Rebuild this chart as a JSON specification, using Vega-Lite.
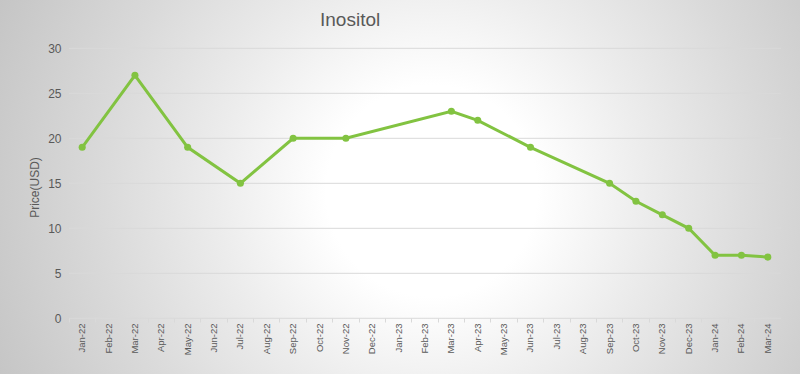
{
  "$schema": "https://vega.github.io/schema/vega-lite/v6.json",
  "width": 800,
  "height": 374,
  "autosize": "none",
  "padding": 0,
  "background": "#d0d0d0",
  "config": {
    "view": {
      "stroke": null,
      "fill": {
        "gradient": "radial",
        "x1": 0.54, "y1": 0.505, "r1": 0,
        "x2": 0.54, "y2": 0.505, "r2": 0.6,
        "stops": [
          {"offset": 0, "color": "#ffffff"},
          {"offset": 0.22, "color": "#ffffff"},
          {"offset": 0.45, "color": "#ececec"},
          {"offset": 0.7, "color": "#d9d9d9"},
          {"offset": 0.9, "color": "#cbcbcb"},
          {"offset": 1, "color": "#c4c4c4"}
        ]
      }
    },
    "font": "Liberation Sans"
  },
  "title": {
    "text": "Inositol",
    "anchor": "start",
    "dx": 320,
    "offset": -30,
    "baseline": "top",
    "fontSize": 19,
    "fontWeight": "normal",
    "color": "#595959",
    "font": "Liberation Sans"
  },
  "datasets": {
    "prices": [
      {"month": "Jan-22", "price": 19},
      {"month": "Mar-22", "price": 27},
      {"month": "May-22", "price": 19},
      {"month": "Jul-22", "price": 15},
      {"month": "Sep-22", "price": 20},
      {"month": "Nov-22", "price": 20},
      {"month": "Mar-23", "price": 23},
      {"month": "Apr-23", "price": 22},
      {"month": "Jun-23", "price": 19},
      {"month": "Sep-23", "price": 15},
      {"month": "Oct-23", "price": 13},
      {"month": "Nov-23", "price": 11.5},
      {"month": "Dec-23", "price": 10},
      {"month": "Jan-24", "price": 7},
      {"month": "Feb-24", "price": 7},
      {"month": "Mar-24", "price": 6.8}
    ],
    "grid": [
      {"price": 0}, {"price": 5}, {"price": 10}, {"price": 15},
      {"price": 20}, {"price": 25}, {"price": 30}
    ]
  },
  "encoding": {
    "y": {
      "field": "price",
      "type": "quantitative",
      "scale": {"domain": [-6.19, 35.37], "nice": false, "zero": false},
      "axis": {
        "values": [0, 5, 10, 15, 20, 25, 30],
        "offset": -69,
        "grid": false,
        "domain": false,
        "ticks": false,
        "labelPadding": 8,
        "labelColor": "#595959",
        "labelFontSize": 12,
        "title": "Price(USD)",
        "titleColor": "#595959",
        "titleFontSize": 12,
        "titleFontWeight": "normal",
        "titlePadding": 6
      }
    }
  },
  "layer": [
    {
      "data": {"name": "grid"},
      "mark": {"type": "rule", "color": "#d9d9d9", "strokeWidth": 1},
      "encoding": {
        "x": {"datum": "Jan-22", "type": "ordinal", "bandPosition": 0},
        "x2": {"datum": "Mar-24", "bandPosition": 1}
      }
    },
    {
      "data": {"name": "prices"},
      "mark": {
        "type": "line",
        "color": "#82c341",
        "strokeWidth": 3,
        "point": {"filled": true, "size": 50, "color": "#82c341"}
      },
      "encoding": {
        "x": {
          "field": "month",
          "type": "ordinal",
          "scale": {
            "type": "band",
            "domain": ["Jan-22","Feb-22","Mar-22","Apr-22","May-22","Jun-22","Jul-22","Aug-22","Sep-22","Oct-22","Nov-22","Dec-22","Jan-23","Feb-23","Mar-23","Apr-23","May-23","Jun-23","Jul-23","Aug-23","Sep-23","Oct-23","Nov-23","Dec-23","Jan-24","Feb-24","Mar-24"],
            "range": [69, 781],
            "paddingInner": 0,
            "paddingOuter": 0
          },
          "axis": {
            "orient": "bottom",
            "offset": -56,
            "title": null,
            "domain": false,
            "grid": false,
            "bandPosition": 0,
            "ticks": true,
            "tickColor": "#d9d9d9",
            "tickSize": 4,
            "labelAngle": -90,
            "labelPadding": 1,
            "labelColor": "#595959",
            "labelFont": "Liberation Sans",
            "labelFontSize": 9.5,
            "labelOverlap": false
          }
        }
      }
    }
  ]
}
